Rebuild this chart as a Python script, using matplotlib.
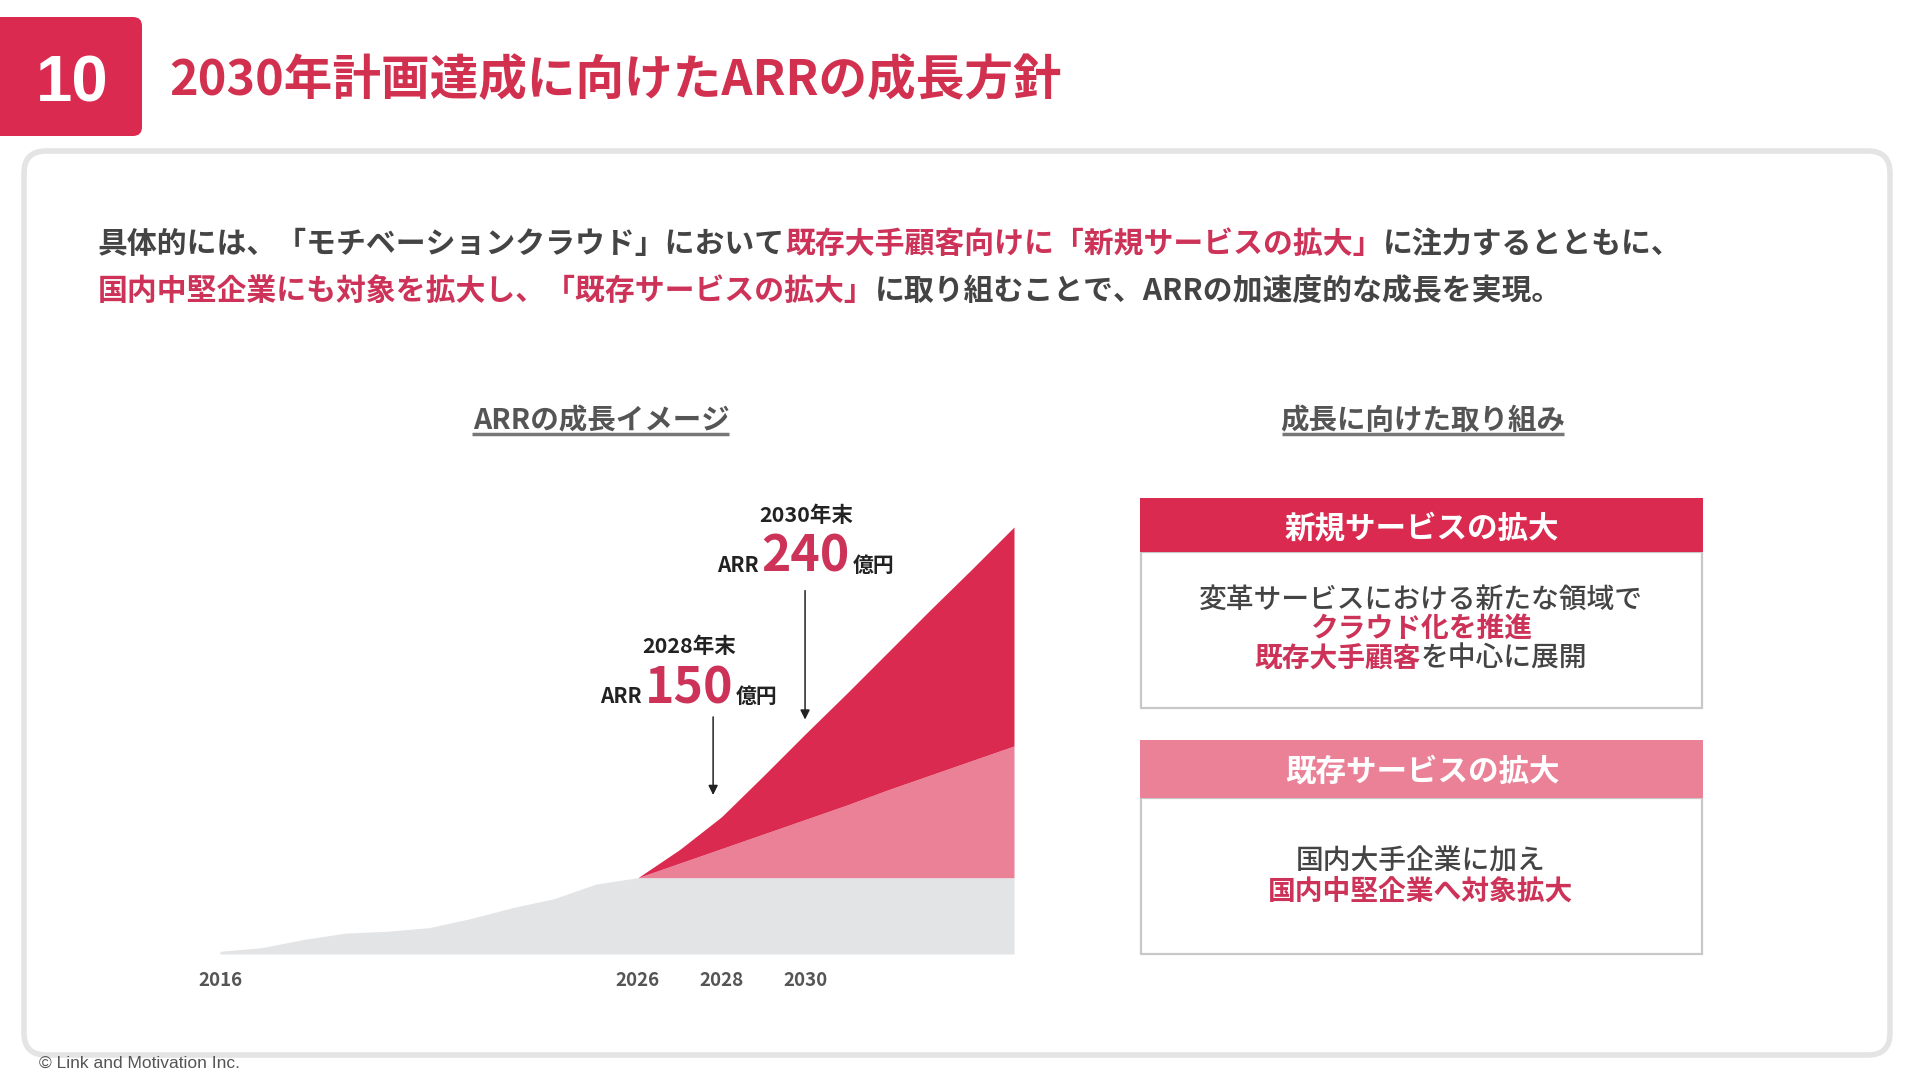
import matplotlib
matplotlib.use('Agg')
import matplotlib.pyplot as plt
from matplotlib.patches import FancyBboxPatch, Rectangle

plt.rcParams['font.family'] = ['Noto Sans CJK JP', 'DejaVu Sans']

# --- データ（億円、図から読み取り） ---
hist_years = [2016, 2017, 2018, 2019, 2020, 2021, 2022, 2023, 2024, 2025, 2026]
hist_arr = [3, 7, 16, 23, 25, 29, 39, 51, 61, 77, 84]
plan_years = [2026, 2027, 2028, 2029, 2030, 2031, 2032, 2033, 2034, 2035]
base_plan = [84, 84, 84, 84, 84, 84, 84, 84, 84, 84]
existing_top = [84, 100, 116, 132, 148, 164, 181, 197, 213, 229]
new_top = [84, 115, 151, 196, 242, 287, 333, 379, 424, 470]
tick_years = [2016, 2026, 2028, 2030]
goal_years = [2028, 2030]
goal_values = ['150', '240']

RED = '#DB2A4F'
PINK = '#EA8197'
GRAY = '#E3E4E6'
TXT_RED = '#CD3358'
TXT = '#444444'

fig = plt.figure(figsize=(19.2, 10.8), dpi=100)
r = fig.canvas.get_renderer()

bg = fig.add_axes([0, 0, 1, 1])
bg.set_xlim(0, 1920)
bg.set_ylim(1080, 0)
bg.axis('off')


def line(x, y, parts, ha='left', gap=0):
    # parts: (text, color, size, weight)
    arts = []
    cx = x
    for s, c, size, w in parts:
        t = bg.text(cx, y, s, color=c, fontsize=size, fontweight=w, va='baseline', ha='left')
        cx += t.get_window_extent(r).width + gap
        arts.append(t)
    total = cx - x - gap
    if ha == 'center':
        for t in arts:
            t.set_x(t.get_position()[0] - total / 2)
    return arts


# 見出し
bg.add_patch(FancyBboxPatch((-30, 17), 172, 119, boxstyle='round,pad=0,rounding_size=9',
                            fc=RED, ec='none'))
bg.text(72, 101, '10', color='white', fontsize=47, fontweight='bold',
        family='Liberation Sans', ha='center', va='baseline')
bg.text(169, 95, '2030年計画達成に向けたARRの成長方針', color='#D1304F', fontsize=35,
        fontweight='bold', ha='left', va='baseline')

# カード
bg.add_patch(FancyBboxPatch((24, 151), 1866, 904, boxstyle='round,pad=0,rounding_size=22',
                            fc='white', ec='#E4E4E4', lw=4))

# 本文
fs = 21.5
line(98, 253, [('具体的には、「モチベーションクラウド」において', TXT, fs, 'bold'),
               ('既存大手顧客向けに「新規サービスの拡大」', TXT_RED, fs, 'bold'),
               ('に注力するとともに、', TXT, fs, 'bold')])
line(98, 300, [('国内中堅企業にも対象を拡大し、「既存サービスの拡大」', TXT_RED, fs, 'bold'),
               ('に取り組むことで、ARRの加速度的な成長を実現。', TXT, fs, 'bold')])

# 小見出し
for cx, s, x0, x1 in [(601, 'ARRの成長イメージ', 472, 729), (1423, '成長に向けた取り組み', 1282, 1564)]:
    bg.text(cx, 429, s, color='#555555', fontsize=20.5, fontweight='bold', ha='center', va='baseline')
    bg.plot([x0, x1], [434, 434], color='#777777', lw=2.5, solid_capstyle='butt')

# チャート
ax = fig.add_axes([220 / 1920, 126 / 1080, 794 / 1920, 427 / 1080])
ax.set_facecolor('none')
ax.fill_between(hist_years + plan_years[1:], 0, hist_arr + base_plan[1:], color=GRAY, lw=0)
ax.fill_between(plan_years, base_plan, existing_top, color=PINK, lw=0)
ax.fill_between(plan_years, existing_top, new_top, color=RED, lw=0)
ax.set_xlim(2016, 2035)
ax.set_ylim(0, 470)
ax.set_xticks(tick_years)
ax.set_xticklabels([str(y) for y in tick_years], fontsize=13.5, fontweight='bold', color='#555555')
ax.tick_params(axis='x', length=0, pad=12)
ax.set_yticks([])
for s in ax.spines.values():
    s.set_visible(False)

# 目標の注記
arrow_x = [2027.8, 2030]
arrow_from = [264, 403]
arrow_to = [172, 255]
label_y = [(653, 703), (522, 572)]
label_x = [689, 806]
for i in range(2):
    ax.annotate('', xy=(arrow_x[i], arrow_to[i]), xytext=(arrow_x[i], arrow_from[i]),
                arrowprops=dict(arrowstyle='-|>', color='#222222', lw=1.1, mutation_scale=14))
    line(label_x[i], label_y[i][0], [(f'{goal_years[i]}年末', '#222222', 15.5, 'bold')], ha='center')
    line(label_x[i], label_y[i][1], [('ARR', '#222222', 15, 'bold'),
                                     (goal_values[i], TXT_RED, 36, 'bold'),
                                     ('億円', '#222222', 15, 'bold')], ha='center', gap=3)

# 右側のボックス
boxes = [
    ('新規サービスの拡大', RED, 498, 552, 708,
     [[('変革サービスにおける新たな領域で', TXT, 'medium')],
      [('クラウド化を推進', TXT_RED, 'bold')],
      [('既存大手顧客', TXT_RED, 'bold'), ('を中心に展開', TXT, 'medium')]],
     [608, 637, 667]),
    ('既存サービスの拡大', PINK, 740, 798, 954,
     [[('国内大手企業に加え', TXT, 'medium')],
      [('国内中堅企業へ対象拡大', TXT_RED, 'bold')]],
     [870, 900]),
]
for title, col, top, mid, bot, rows, ys in boxes:
    bg.add_patch(Rectangle((1141, mid), 561, bot - mid, fc='white', ec='#C8C8C8', lw=1.6))
    bg.add_patch(Rectangle((1140, top), 563, mid - top, fc=col, ec='none'))
    line(1422, (top + mid) / 2 + 12, [(title, 'white', 22, 'bold')], ha='center')
    for row, yy in zip(rows, ys):
        line(1421, yy, [(s, c, 20, w) for s, c, w in row], ha='center')

bg.text(39, 1063, '© Link and Motivation Inc.', color='#555555', fontsize=12.5,
        family='Liberation Sans', ha='left', va='center')

fig.savefig('out.png', dpi=100)
